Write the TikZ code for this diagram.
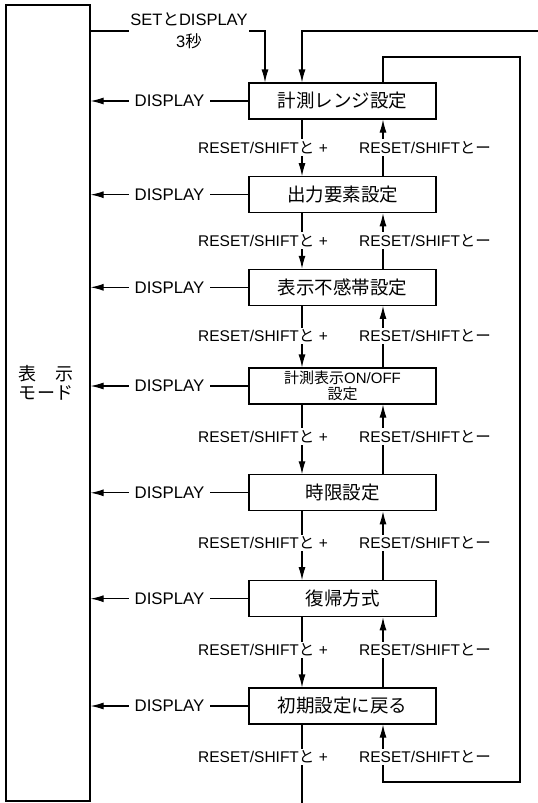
\documentclass[tikz,border=0pt]{standalone}
\usepackage{fontspec}
\setmainfont{Liberation Sans}
\newfontfamily\cjk{Noto Sans CJK JP}
\usetikzlibrary{arrows.meta}
\tikzset{
 ln/.style={line width=1.1pt},
 arr/.style={ln,-{Latex[length=13pt,width=7pt]}},
 stbox/.style={draw,line width=1.1pt,minimum width=187pt,minimum height=36pt,inner sep=0pt,align=center,font=\cjk\fontsize{18.5}{22}\selectfont},
 lbl/.style={fill=white,inner xsep=3pt,inner ysep=2pt,font=\fontsize{15.5}{18}\selectfont},
 dlbl/.style={fill=white,inner xsep=6pt,inner ysep=1pt,font=\fontsize{16.8}{20}\selectfont},
}
\begin{document}
\begin{tikzpicture}[x=1pt,y=-1pt]
\useasboundingbox (0,0) rectangle (538,803);
% left mode box
\node[draw,line width=1.2pt,minimum width=84pt,minimum height=796pt,inner sep=0pt] (mode) at (48,403) {};
\node[align=center,font=\cjk\fontsize{18}{19}\selectfont] (modetxt) at (46,383) {表　示\\モード};
% state boxes
\node[stbox] (b1) at (342.5,101) {計測レンジ設定};
\node[stbox] (b2) at (342.5,194.7) {出力要素設定};
\node[stbox] (b3) at (342.5,287.3) {表示不感帯設定};
\node[stbox,font=\fontsize{15}{15.5}\selectfont] (b4) at (342.5,386) {{\cjk 計測表示}ON/OFF\\{\cjk 設定}};
\node[stbox] (b5) at (342.5,492.8) {時限設定};
\node[stbox] (b6) at (342.5,598.7) {復帰方式};
\node[stbox] (b7) at (342.5,706) {初期設定に戻る};
% entry from the top
\draw[arr] (mode.east |- 0,31) -| ([xshift=-77.5pt]b1.north);
\node[fill=white,align=center,inner xsep=1pt,inner ysep=0pt,font=\fontsize{16.5}{22}\selectfont] (setlbl) at (189,31) {SET{\cjk と}DISPLAY\\3{\cjk 秒}};
\coordinate (rin) at (538,31);
\draw[arr] (rin) -| ([xshift=-40.5pt]b1.north);
% loop on the right
\coordinate (lt) at (520,57);
\coordinate (lb) at (520,782);
\draw[arr] ([xshift=40.5pt]b1.north) |- (lt) -- (lb) -| ([xshift=40.5pt]b7.south);
% bottom exit
\coordinate (bout) at (302,803);
\draw[ln] ([xshift=-40.5pt]b7.south) -- (bout);
% transitions between boxes
\foreach \a/\b/\m in {b1/b2/147.5,b2/b3/240.5,b3/b4/336,b4/b5/436.5,b5/b6/543,b6/b7/650}{
  \draw[arr] ([xshift=-40.5pt]\a.south) -- ([xshift=-40.5pt]\b.north);
  \draw[arr] ([xshift=40.5pt]\b.north) -- ([xshift=40.5pt]\a.south);
  \node[lbl,anchor=east] (p\a) at (331,\m) {RESET/SHIFT{\cjk と} +};
  \node[lbl,anchor=west] (m\a) at (356,\m) {RESET/SHIFT{\cjk とー}};
}
\node[lbl,anchor=east] (pb7) at (331,757) {RESET/SHIFT{\cjk と} +};
\node[lbl,anchor=west] (mb7) at (356,757) {RESET/SHIFT{\cjk とー}};
% DISPLAY arrows
\foreach \b in {b1,b2,b3,b4,b5,b6,b7}{
  \draw[arr] (\b.west) -- node[dlbl] (d\b) {DISPLAY} (mode.east |- \b.west);
}
\end{tikzpicture}
\end{document}
